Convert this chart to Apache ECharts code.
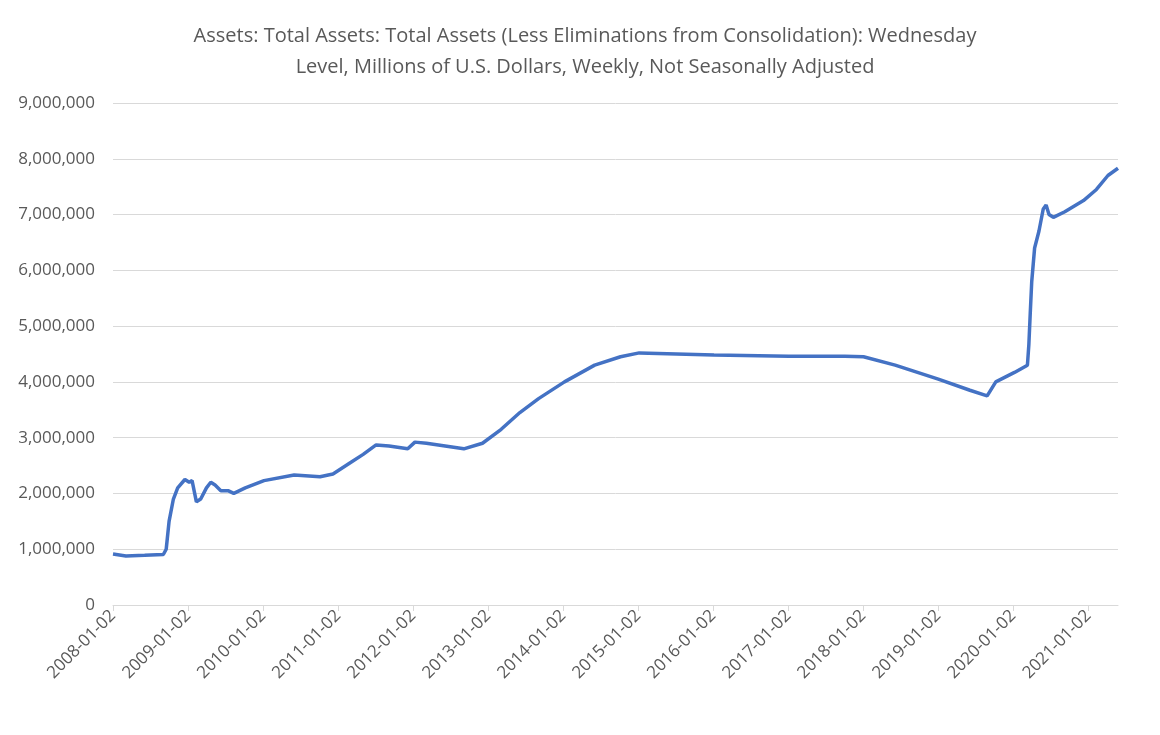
<!DOCTYPE html>
<html>
<head>
<meta charset="utf-8">
<script src="https://cdn.jsdelivr.net/npm/echarts@6/dist/echarts.min.js"></script>
<style>html,body{margin:0;padding:0;background:#fff}</style>
</head>
<body>
<div id="main" style="width:1160px;height:735px;"></div>
<script>
// weekly balance sheet (millions of USD)
var dates = ['2008-01-02','2008-03-05','2008-06-04','2008-09-03','2008-09-17','2008-10-01','2008-10-22','2008-11-12','2008-12-17','2009-01-07','2009-01-21','2009-02-11','2009-03-04','2009-04-01','2009-04-22','2009-05-13','2009-06-10','2009-07-15','2009-08-12','2009-10-07','2010-01-06','2010-06-02','2010-10-06','2010-12-08','2011-03-02','2011-05-04','2011-07-06','2011-09-07','2011-12-07','2012-01-11','2012-03-07','2012-06-06','2012-09-05','2012-12-05','2013-03-06','2013-06-05','2013-09-04','2014-01-08','2014-06-04','2014-10-08','2015-01-07','2016-01-06','2017-01-04','2017-10-04','2018-01-03','2018-06-06','2019-01-02','2019-06-05','2019-08-28','2019-10-09','2020-01-08','2020-03-11','2020-03-18','2020-03-25','2020-04-01','2020-04-15','2020-05-06','2020-05-27','2020-06-10','2020-06-24','2020-07-15','2020-09-09','2020-12-09','2021-02-10','2021-04-07','2021-05-26'];
var values = [915000,880000,890000,905000,1000000,1500000,1900000,2100000,2250000,2200000,2230000,1850000,1900000,2100000,2200000,2150000,2050000,2050000,2000000,2100000,2230000,2330000,2300000,2350000,2550000,2700000,2870000,2850000,2800000,2920000,2900000,2850000,2800000,2900000,3150000,3450000,3700000,4000000,4300000,4450000,4520000,4480000,4460000,4460000,4450000,4300000,4050000,3850000,3750000,4000000,4170000,4300000,4670000,5250000,5800000,6400000,6700000,7100000,7170000,7000000,6950000,7050000,7250000,7450000,7700000,7830000];
var tickLabels = ['2008-01-02','2009-01-02','2010-01-02','2011-01-02','2012-01-02','2013-01-02','2014-01-02','2015-01-02','2016-01-02','2017-01-02','2018-01-02','2019-01-02','2020-01-02','2021-01-02'];

function ts(s){ return Date.parse(s + 'T00:00:00Z'); }
function fmt(v){ return new Date(v).toISOString().slice(0,10); }
var tickVals = tickLabels.map(ts);
var data = dates.map(function(d,i){ return [ts(d), values[i]]; });

var myChart = echarts.init(document.getElementById('main'));
myChart.setOption({
    animation: false,
    title: {
        text: 'Assets: Total Assets: Total Assets (Less Eliminations from Consolidation): Wednesday\nLevel, Millions of U.S. Dollars, Weekly, Not Seasonally Adjusted',
        left: 580, top: 16, textAlign: 'center',
        textStyle: {fontFamily: 'Open Sans', fontSize: 20, fontWeight: 'normal', color: '#595959', lineHeight: 31}
    },
    grid: {left: 113, right: 42, top: 103, bottom: 130},
    xAxis: {
        type: 'value',
        min: ts('2008-01-02'),
        max: ts('2021-05-26'),
        axisLine: {lineStyle: {color: '#d9d9d9'}},
        axisTick: {show: true, customValues: tickVals, length: 6, lineStyle: {color: '#d9d9d9'}},
        axisLabel: {customValues: tickVals, rotate: 45, color: '#595959', fontFamily: 'Open Sans', fontSize: 17,
            formatter: function(v){ return fmt(v); }},
        splitLine: {show: false}
    },
    yAxis: {
        type: 'value', min: 0, max: 9000000, interval: 1000000,
        axisLine: {show: false}, axisTick: {show: false},
        axisLabel: {color: '#595959', fontFamily: 'Open Sans', fontSize: 17, margin: 18},
        splitLine: {lineStyle: {color: '#d9d9d9'}}
    },
    series: [{
        type: 'line', data: data, symbol: 'none',
        lineStyle: {color: '#4472C4', width: 3.5}
    }]
});
</script>
</body>
</html>
